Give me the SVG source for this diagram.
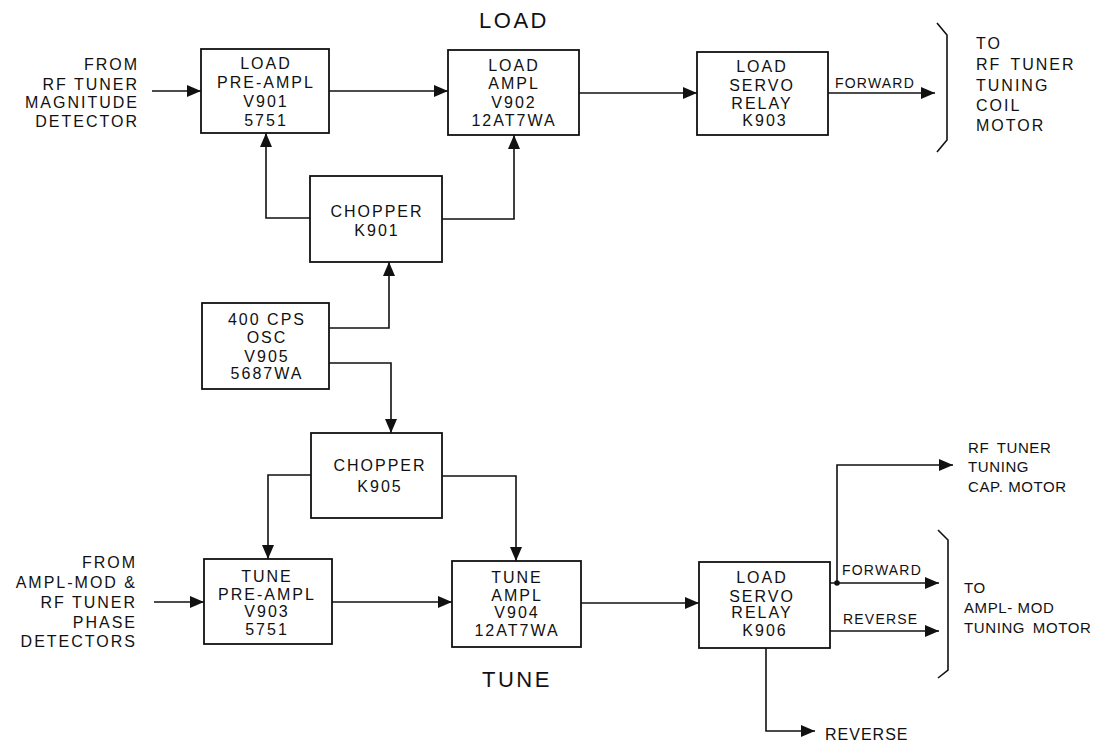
<svg xmlns="http://www.w3.org/2000/svg" width="1099" height="744" viewBox="0 0 1099 744">
<style>
  .box{fill:none;stroke:#111;stroke-width:1.8}
  .ln{fill:none;stroke:#111;stroke-width:1.6}
  .arr{marker-end:url(#ah)}
  text{font-family:"Liberation Sans",Arial,sans-serif;fill:#111}
  .bt{font-size:16px;letter-spacing:2px;text-anchor:middle}
  .sl{font-size:16px;letter-spacing:2px;text-anchor:end}
  .sr{font-size:16px;letter-spacing:2px}
  .sr2{font-size:15px;letter-spacing:0.6px}
  .lab{font-size:14px;letter-spacing:1.2px}
  .title{font-size:22px;letter-spacing:2.5px;text-anchor:middle}
</style>
<defs>
  <marker id="ah" markerUnits="userSpaceOnUse" markerWidth="15" markerHeight="13" refX="14" refY="6" orient="auto">
    <path d="M0,0 L14,6 L0,12 Z" fill="#111"/>
  </marker>
</defs>

<g id="connectors">
  <path class="ln arr" d="M152,91 H201"/>
  <path class="ln arr" d="M329,91 H448"/>
  <path class="ln arr" d="M579,93 H697"/>
  <path class="ln arr" d="M828,93 H935"/>
  <path class="ln arr" d="M310,218 H266 V133"/>
  <path class="ln arr" d="M442,219 H514 V135"/>
  <path class="ln arr" d="M329,328 H389 V262"/>
  <path class="ln arr" d="M329,363 H391 V433"/>
  <path class="ln arr" d="M311,475 H268 V559"/>
  <path class="ln arr" d="M442,476 H516 V561"/>
  <path class="ln arr" d="M154,602 H204"/>
  <path class="ln arr" d="M332,602 H452"/>
  <path class="ln arr" d="M581,603 H699"/>
  <path class="ln arr" d="M830,583 H939"/>
  <path class="ln arr" d="M837,583 V465 H953"/>
  <circle cx="837" cy="583" r="2.8" fill="#111"/>
  <path class="ln arr" d="M830,631 H939"/>
  <path class="ln arr" d="M766,648 V731 H815"/>
  <path class="ln" d="M937,23 L947,35 V140 L937,152"/>
  <path class="ln" d="M938,530 L948,540 V670 L938,678"/>
</g>

<g id="load_preampl">
  <rect class="box" x="201" y="49" width="128" height="84"/>
  <text class="bt" x="266" y="69">LOAD</text>
  <text class="bt" x="266" y="88">PRE-AMPL</text>
  <text class="bt" x="266" y="107">V901</text>
  <text class="bt" x="266" y="126">5751</text>
</g>
<g id="load_ampl">
  <rect class="box" x="448" y="50" width="131" height="85"/>
  <text class="bt" x="514" y="71">LOAD</text>
  <text class="bt" x="514" y="89">AMPL</text>
  <text class="bt" x="514" y="108">V902</text>
  <text class="bt" x="514" y="126">12AT7WA</text>
</g>
<g id="load_servo_k903">
  <rect class="box" x="697" y="52" width="131" height="83"/>
  <text class="bt" x="762" y="72">LOAD</text>
  <text class="bt" x="762" y="91">SERVO</text>
  <text class="bt" x="762" y="109">RELAY</text>
  <text class="bt" x="765" y="126">K903</text>
</g>
<g id="chopper_k901">
  <rect class="box" x="310" y="176" width="132" height="86"/>
  <text class="bt" x="377" y="217">CHOPPER</text>
  <text class="bt" x="377" y="236">K901</text>
</g>
<g id="osc_v905">
  <rect class="box" x="202" y="303" width="127" height="86"/>
  <text class="bt" x="267" y="325">400 CPS</text>
  <text class="bt" x="267" y="343">OSC</text>
  <text class="bt" x="267" y="362">V905</text>
  <text class="bt" x="267" y="379">5687WA</text>
</g>
<g id="chopper_k905">
  <rect class="box" x="311" y="433" width="131" height="85"/>
  <text class="bt" x="380" y="471">CHOPPER</text>
  <text class="bt" x="380" y="492">K905</text>
</g>
<g id="tune_preampl">
  <rect class="box" x="204" y="559" width="128" height="85"/>
  <text class="bt" x="267" y="582">TUNE</text>
  <text class="bt" x="267" y="600">PRE-AMPL</text>
  <text class="bt" x="267" y="617">V903</text>
  <text class="bt" x="267" y="635">5751</text>
</g>
<g id="tune_ampl">
  <rect class="box" x="452" y="561" width="129" height="86"/>
  <text class="bt" x="517" y="583">TUNE</text>
  <text class="bt" x="517" y="601">AMPL</text>
  <text class="bt" x="517" y="618">V904</text>
  <text class="bt" x="517" y="636">12AT7WA</text>
</g>
<g id="load_servo_k906">
  <rect class="box" x="699" y="562" width="131" height="86"/>
  <text class="bt" x="762" y="583">LOAD</text>
  <text class="bt" x="762" y="602">SERVO</text>
  <text class="bt" x="762" y="618">RELAY</text>
  <text class="bt" x="765" y="636">K906</text>
</g>

<g id="labels">
  <text class="title" x="514" y="28">LOAD</text>
  <text class="title" x="517" y="687">TUNE</text>
  <text class="sl" x="139" y="70">FROM</text>
  <text class="sl" x="139" y="90">RF TUNER</text>
  <text class="sl" x="139" y="108">MAGNITUDE</text>
  <text class="sl" x="139" y="127">DETECTOR</text>
  <text class="sl" x="137" y="568">FROM</text>
  <text class="sl" x="137" y="588">AMPL-MOD &amp;</text>
  <text class="sl" x="137" y="608">RF TUNER</text>
  <text class="sl" x="137" y="628">PHASE</text>
  <text class="sl" x="137" y="647">DETECTORS</text>
  <text class="sr" x="976" y="49">TO</text>
  <text class="sr" x="976" y="70" word-spacing="3">RF TUNER</text>
  <text class="sr" x="976" y="91">TUNING</text>
  <text class="sr" x="976" y="111">COIL</text>
  <text class="sr" x="976" y="131">MOTOR</text>
  <text class="lab" x="835" y="88">FORWARD</text>
  <text class="sr2" x="968" y="453" word-spacing="3">RF TUNER</text>
  <text class="sr2" x="968" y="472">TUNING</text>
  <text class="sr2" x="968" y="492">CAP. MOTOR</text>
  <text class="lab" x="842" y="575">FORWARD</text>
  <text class="lab" x="843" y="624">REVERSE</text>
  <text class="sr2" x="964" y="593">TO</text>
  <text class="sr2" x="964" y="613">AMPL- MOD</text>
  <text class="sr2" x="964" y="633" word-spacing="3">TUNING MOTOR</text>
  <text class="sr" x="825" y="740" style="letter-spacing:1px">REVERSE</text>
</g>
</svg>
